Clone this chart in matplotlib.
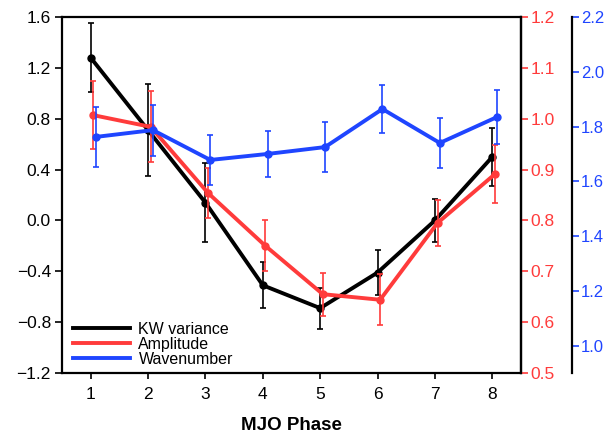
import matplotlib
matplotlib.use("Agg")
import matplotlib.pyplot as plt
import numpy as np
from matplotlib.lines import Line2D

plt.rcParams['font.family'] = ['Liberation Sans', 'DejaVu Sans']

phases = [1, 2, 3, 4, 5, 6, 7, 8]
kw_var = [1.28, 0.71, 0.14, -0.51, -0.69, -0.41, 0.00, 0.50]
kw_err = [0.27, 0.36, 0.31, 0.18, 0.16, 0.18, 0.17, 0.23]
amp = [1.007, 0.984, 0.854, 0.750, 0.655, 0.644, 0.795, 0.891]
amp_err = [0.067, 0.070, 0.050, 0.050, 0.042, 0.050, 0.045, 0.057]
wavenum = [1.762, 1.787, 1.678, 1.700, 1.725, 1.864, 1.740, 1.835]
wav_err = [0.108, 0.093, 0.090, 0.083, 0.090, 0.086, 0.090, 0.097]

left_ticks = [-1.2, -0.8, -0.4, 0.0, 0.4, 0.8, 1.2, 1.6]
red_ticks = [0.5, 0.6, 0.7, 0.8, 0.9, 1.0, 1.1, 1.2]
blue_ticks = [1.0, 1.2, 1.4, 1.6, 1.8, 2.0, 2.2]

RED = '#ff3b3b'
BLUE = '#1f45ff'

fig = plt.figure(figsize=(6.13, 4.33), dpi=100)
ax = fig.add_axes([62/613, 1-373/433, (521-62)/613, (373-17)/433])
ax2 = ax.twinx()
ax3 = ax.twinx()

x = np.array(phases, dtype=float)
lw = 2.8
ax.errorbar(x, kw_var, yerr=kw_err, color='black', lw=lw, marker='o', ms=5,
            elinewidth=1.2, capsize=2.5, capthick=1.2, zorder=3)
ax2.errorbar(x + 0.045, amp, yerr=amp_err, color=RED, lw=lw, marker='o', ms=5,
             elinewidth=1.2, capsize=2.5, capthick=1.2, zorder=3)
ax3.errorbar(x + 0.085, wavenum, yerr=wav_err, color=BLUE, lw=lw, marker='o', ms=5,
             elinewidth=1.2, capsize=2.5, capthick=1.2, zorder=3)

ax.set_xlim(0.5, 8.5)
ax.set_ylim(-1.2, 1.6)
ax2.set_ylim(0.5, 1.2)
ax3.set_ylim(0.9, 2.2)

ax.set_xticks(phases)
ax.set_yticks(left_ticks)
ax.set_yticklabels([f"{v:.1f}".replace('-', '\u2212') for v in left_ticks])
ax2.set_yticks(red_ticks)
ax2.set_yticklabels([f"{v:.1f}" for v in red_ticks])
ax3.set_yticks(blue_ticks)
ax3.set_yticklabels([f"{v:.1f}" for v in blue_ticks])

for a in (ax, ax2, ax3):
    for s in a.spines.values():
        s.set_linewidth(1.6)

fs = 12.5
ax.tick_params(axis='y', labelsize=fs, width=1.2, length=5, direction='out', pad=3)
ax.tick_params(axis='x', labelsize=fs, width=1.2, length=4, direction='out', pad=6)
ax2.tick_params(axis='y', colors=RED, labelsize=fs, width=1.2, length=5, direction='out', pad=2)
ax2.spines['right'].set_color('black')
ax3.spines['right'].set_position(('axes', 1 + 51/459))
ax3.spines['right'].set_color('black')
ax3.tick_params(axis='y', colors=BLUE, labelsize=12, width=1.2, length=5, direction='out', pad=1.5)
for a in (ax2, ax3):
    a.spines['left'].set_visible(False)
    a.spines['top'].set_visible(False)
    a.spines['bottom'].set_visible(False)

ax.set_xlabel('MJO Phase', fontsize=13.5, fontweight='bold', labelpad=11)

handles = [Line2D([0], [0], color='black', lw=lw),
           Line2D([0], [0], color=RED, lw=lw),
           Line2D([0], [0], color=BLUE, lw=lw)]
ax.legend(handles, ['KW variance', 'Amplitude', 'Wavenumber'], loc='lower left',
          frameon=False, handlelength=3.6, labelspacing=0.0,
          handletextpad=0.5, borderaxespad=0.0, bbox_to_anchor=(0.01, 0.0),
          prop={'size': 11.5, 'weight': 'medium'})

fig.savefig('out.png', dpi=100)
